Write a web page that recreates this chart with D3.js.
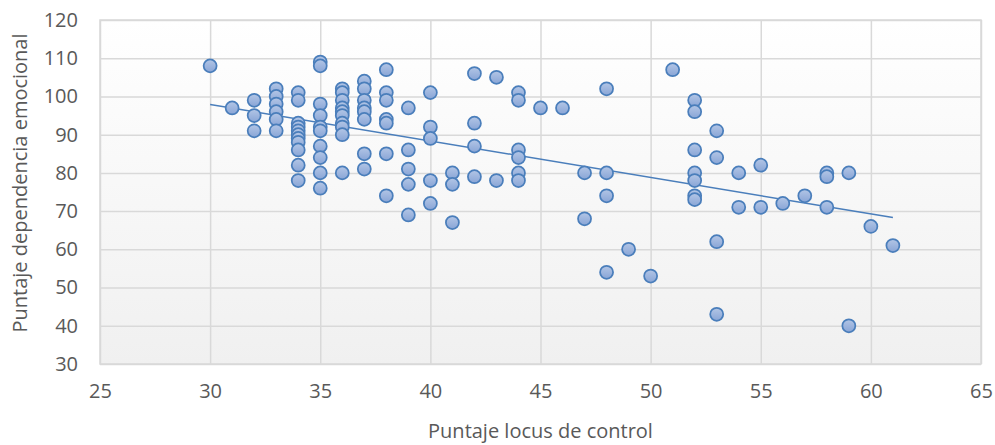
<!DOCTYPE html>
<html>
<head>
  <meta charset="utf-8">
  <script src="https://d3js.org/d3.v7.min.js"></script>
  <style>
    html, body { margin: 0; padding: 0; background: #fff; overflow: hidden; }
    svg { display: block; }
    text { font-family: "Open Sans", sans-serif; fill: #595959; }
  </style>
</head>
<body>
<div id="chart"></div>
<script>

    // locus de control score -> list of emotional dependence scores
    const locus = [30, 31, 32, 33, 34, 35, 36, 37, 38, 39, 40, 41, 42, 43, 44, 45, 46, 47, 48, 49, 50, 51, 52, 53, 54, 55, 56, 57, 58, 59, 60, 61]
    const dependencia = [
        [108],
        [97],
        [99, 95, 91],
        [102, 100, 98, 96, 94, 91],
        [101, 99, 93, 92, 91, 90, 89, 88, 86, 82, 78],
        [109, 108, 98, 95, 92, 91, 87, 84, 80, 76],
        [102, 101, 99, 97, 96, 95, 93, 92, 90, 80],
        [104, 102, 99, 97, 96, 94, 85, 81],
        [107, 101, 99, 94, 93, 85, 74],
        [97, 86, 81, 77, 69],
        [101, 92, 89, 78, 72],
        [80, 77, 67],
        [106, 93, 87, 79],
        [105, 78],
        [101, 99, 86, 84, 80, 78],
        [97],
        [97],
        [80, 68],
        [102, 80, 74, 54],
        [60],
        [53],
        [107],
        [99, 96, 86, 80, 78, 74, 73],
        [91, 84, 62, 43],
        [80, 71],
        [82, 71],
        [72],
        [74],
        [80, 79, 71],
        [80, 40],
        [66],
        [61]
    ]
    const xTicks = [25, 30, 35, 40, 45, 50, 55, 60, 65]
    const yTicks = [30, 40, 50, 60, 70, 80, 90, 100, 110, 120]

    const points = []
    locus.forEach((x, i) => dependencia[i].forEach(y => points.push({ x: x, y: y })))

    const width = 995,
        height = 445
    const margin = { top: 20, right: 14, bottom: 81, left: 100 },
        innerWidth = width - margin.left - margin.right,
        innerHeight = height - margin.top - margin.bottom

    const xScale = d3.scaleLinear().domain([25, 65]).range([0, innerWidth])
    const yScale = d3.scaleLinear().domain([30, 120]).range([innerHeight, 0])

    const svg = d3.select('#chart').append('svg')
        .attr('width', width)
        .attr('height', height)

    const defs = svg.append('defs')
    const bg = defs.append('linearGradient').attr('id', 'bg').attr('x1', 0).attr('y1', 0).attr('x2', 0).attr('y2', 1)
    bg.append('stop').attr('offset', '0%').attr('stop-color', '#ffffff')
    bg.append('stop').attr('offset', '100%').attr('stop-color', '#f0f0f0')
    const mk = defs.append('linearGradient').attr('id', 'mk').attr('x1', 0).attr('y1', 0).attr('x2', 0).attr('y2', 1)
    mk.append('stop').attr('offset', '0%').attr('stop-color', '#b3c6e6')
    mk.append('stop').attr('offset', '100%').attr('stop-color', '#89a5d6')

    const g = svg.append('g').attr('transform', `translate(${margin.left},${margin.top})`)

    g.append('rect')
        .attr('width', innerWidth)
        .attr('height', innerHeight)
        .attr('fill', 'url(#bg)')

    // gridlines
    g.append('g')
        .call(d3.axisLeft(yScale).tickValues(yTicks).tickSize(-innerWidth).tickFormat(''))
        .call(a => a.select('.domain').remove())
        .call(a => a.selectAll('line').attr('stroke', '#d9d9d9').attr('stroke-width', 1.5))

    g.append('g')
        .attr('transform', `translate(0,${innerHeight})`)
        .call(d3.axisBottom(xScale).tickValues(xTicks).tickSize(-innerHeight).tickFormat(''))
        .call(a => a.select('.domain').remove())
        .call(a => a.selectAll('line').attr('stroke', '#d9d9d9').attr('stroke-width', 1.5))

    g.append('rect')
        .attr('width', innerWidth)
        .attr('height', innerHeight)
        .attr('fill', 'none')
        .attr('stroke', '#d9d9d9')
        .attr('stroke-width', 1.5)

    // tick labels
    g.append('g')
        .call(d3.axisLeft(yScale).tickValues(yTicks).tickSize(0).tickPadding(22))
        .call(a => a.select('.domain').remove())
        .selectAll('text').attr('font-size', 20).attr('fill', '#595959').attr('font-family', 'Open Sans')

    g.append('g')
        .attr('transform', `translate(0,${innerHeight})`)
        .call(d3.axisBottom(xScale).tickValues(xTicks).tickSize(0).tickPadding(20))
        .call(a => a.select('.domain').remove())
        .selectAll('text').attr('font-size', 20).attr('fill', '#595959').attr('font-family', 'Open Sans')

    // least-squares trend line
    const mx = d3.mean(points, d => d.x), my = d3.mean(points, d => d.y)
    const slope = d3.sum(points, d => (d.x - mx) * (d.y - my)) / d3.sum(points, d => (d.x - mx) ** 2)
    const x0 = d3.min(points, d => d.x), x1 = d3.max(points, d => d.x)
    const trend = [[x0, my + slope * (x0 - mx)], [x1, my + slope * (x1 - mx)]]

    g.append('path')
        .attr('d', d3.line().x(d => xScale(d[0])).y(d => yScale(d[1]))(trend))
        .attr('fill', 'none')
        .attr('stroke', '#4a7ebb')
        .attr('stroke-width', 1.5)

    g.selectAll('circle')
        .data(points).enter()
        .append('circle')
        .attr('cx', d => xScale(d.x))
        .attr('cy', d => yScale(d.y))
        .attr('r', 6.5)
        .attr('fill', 'url(#mk)')
        .attr('stroke', '#4a7ebb')
        .attr('stroke-width', 1.75)

    // axis titles
    svg.append('text')
        .attr('x', margin.left + innerWidth / 2)
        .attr('y', 438)
        .attr('text-anchor', 'middle')
        .attr('font-size', 20)
        .text('Puntaje locus de control')

    svg.append('text')
        .attr('transform', `translate(27,${margin.top + innerHeight / 2 - 9}) rotate(-90)`)
        .attr('text-anchor', 'middle')
        .attr('font-size', 20)
        .text('Puntaje dependencia emocional')

</script>
</body>
</html>
